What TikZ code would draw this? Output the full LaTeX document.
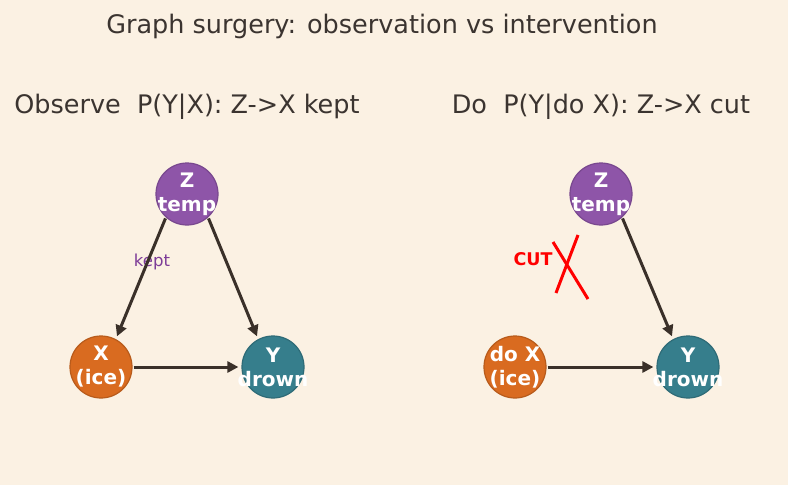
\documentclass[tikz,border=0pt]{standalone}
\usepackage{fontspec}
\setmainfont{DejaVu Sans}
\usetikzlibrary{arrows.meta}

\definecolor{bgcream}{HTML}{FBF1E3}
\definecolor{inkdark}{HTML}{3A3029}
\definecolor{titleink}{HTML}{3B3430}
\definecolor{zpurple}{HTML}{8E55A8}
\definecolor{xorange}{HTML}{D96B20}
\definecolor{yteal}{HTML}{367E8C}
\definecolor{keptpurple}{HTML}{7D3C98}

% zweizeilige Beschriftung, Breite null (Text darf ueber den Kreis hinausragen)
\newcommand{\varlbl}[2]{\makebox[0pt]{#1}\\\makebox[0pt]{#2}}

\begin{document}
\begin{tikzpicture}[
  x=1pt, y=-1pt,
  >={Triangle[length=11pt,width=11pt]},
  var/.style={circle, minimum size=62pt, inner sep=0pt, line width=1.2pt,
    text=white, align=center, font=\fontsize{20}{24}\selectfont\bfseries},
  causal/.style={->, line width=3pt, draw=inkdark, shorten >=3pt, shorten <=1pt},
  heading/.style={text=titleink, inner sep=0pt, font=\fontsize{25.5}{29}\selectfont},
  cutmark/.style={draw=red, line width=3pt},
]

% --- Hintergrund und Rahmen ---
\fill[bgcream] (0,0) rectangle (788,485);
\useasboundingbox (0,0) rectangle (788,485);

% --- Ueberschriften ---
\node[heading] (title) at (382,26) {Graph surgery: observation vs intervention};
\node[heading] (obshead) at (187,107) {Observe\ \ P(Y|X): Z->X kept};
\node[heading] (dohead) at (601,107) {Do\ \ P(Y|do X): Z->X cut};

% --- links: beobachtet, Kante Z->X bleibt ---
\node[text=keptpurple, font=\fontsize{16.5}{19}\selectfont] (keptlbl) at (152,262) {kept};
\node[var, fill=zpurple, draw=zpurple!85!black] (zl) at (187,194) {\varlbl{Z}{temp}};
\node[var, fill=xorange, draw=xorange!85!black] (xl) at (101,367) {\varlbl{X}{(ice)}};
\node[var, fill=yteal, draw=yteal!85!black] (yl) at (273,367) {\varlbl{Y}{drown}};

\draw[causal] (zl.-132) -- (xl.62);
\draw[causal] (zl.-48) -- (yl.118);
\draw[causal] (xl) -- (yl);

% --- rechts: Eingriff do(X), Kante Z->X entfernt ---
\node[var, fill=zpurple, draw=zpurple!85!black] (zr) at (601,194) {\varlbl{Z}{temp}};
\node[var, fill=xorange, draw=xorange!85!black] (xr) at (515,367) {\varlbl{do X}{(ice)}};
\node[var, fill=yteal, draw=yteal!85!black] (yr) at (688,367) {\varlbl{Y}{drown}};

\draw[causal] (zr.-48) -- (yr.118);
\draw[causal] (xr) -- (yr);

% --- Schnittmarke (rotes Kreuz) ---
\node[text=red, font=\fontsize{17.5}{20}\selectfont\bfseries] (cutlbl) at (533,259) {CUT};
\coordinate (cuta) at (578,235);
\coordinate (cutb) at (556,293);
\coordinate (cutc) at (553,242);
\coordinate (cutd) at (588,299);
\draw[cutmark] (cuta) -- (cutb);
\draw[cutmark] (cutc) -- (cutd);

\end{tikzpicture}
\end{document}
